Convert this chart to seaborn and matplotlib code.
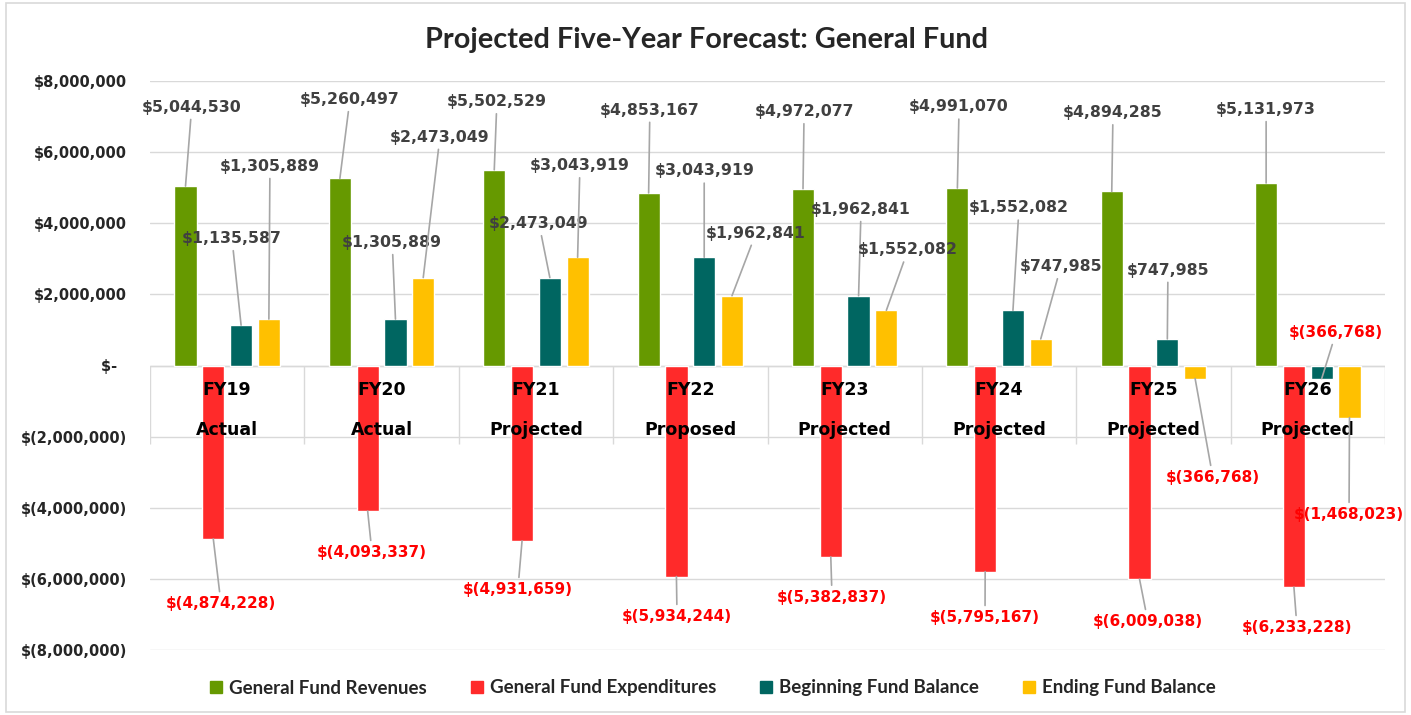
import numpy as np
import pandas as pd
import seaborn as sns
import matplotlib
matplotlib.use("Agg")
import matplotlib.pyplot as plt
from matplotlib.ticker import FuncFormatter
from matplotlib.lines import Line2D
from matplotlib.patches import Rectangle

# ---------------- data ----------------
categories = ["FY19", "FY20", "FY21", "FY22", "FY23", "FY24", "FY25", "FY26"]
statuses = ["Actual", "Actual", "Projected", "Proposed", "Projected", "Projected", "Projected", "Projected"]
series = ["General Fund Revenues", "General Fund Expenditures",
          "Beginning Fund Balance", "Ending Fund Balance"]

revenues = [5044530, 5260497, 5502529, 4853167, 4972077, 4991070, 4894285, 5131973]
expenditures = [-4874228, -4093337, -4931659, -5934244, -5382837, -5795167, -6009038, -6233228]
beginning = [1135587, 1305889, 2473049, 3043919, 1962841, 1552082, 747985, -366768]
ending = [1305889, 2473049, 3043919, 1962841, 1552082, 747985, -366768, -1468023]

# label placement (category offset, value in millions) per series
label_dx = [
    [-0.230, -0.205, -0.253, -0.262, -0.263, -0.259, -0.262, -0.270],
    [-0.040, -0.062, -0.117, -0.086, -0.082, -0.091, -0.036, -0.070],
    [0.031, 0.069, 0.020, 0.090, 0.106, 0.129, 0.094, 0.183],
    [0.277, 0.378, 0.285, 0.425, 0.410, 0.400, 0.385, 0.267],
]
label_y = [
    [7.26, 7.48, 7.42, 7.18, 7.14, 7.27, 7.11, 7.20],
    [-6.70, -5.26, -6.30, -7.06, -6.52, -7.09, -7.20, -7.37],
    [3.57, 3.46, 3.99, 5.47, 4.39, 4.43, 2.68, 0.93],
    [5.60, 6.42, 5.62, 3.72, 3.25, 2.78, -3.15, -4.19],
]

colors = ["#669900", "#FF2A2A", "#006661", "#FFC000"]
values = [revenues, expenditures, beginning, ending]

df = pd.DataFrame({
    "Year": categories * 4,
    "Series": [s for s in series for _ in categories],
    "Value": [v for vals in values for v in vals],
})

# ---------------- figure ----------------
sns.set_theme(style="white")
plt.rcParams["font.family"] = ["DejaVu Sans"]

fig = plt.figure(figsize=(14.11, 7.15), dpi=100)
ax = fig.add_axes([150 / 1411, 1 - 650 / 715, 1235 / 1411, 569 / 715])

sns.barplot(data=df, x="Year", y="Value", hue="Series", order=categories,
            hue_order=series, palette=colors, width=0.72, gap=0.2,
            saturation=1, errorbar=None, legend=False, ax=ax, zorder=3)

ax.set_xlim(-0.5, 7.5)
ax.set_ylim(-8e6, 8e6)
ax.set_yticks(np.arange(-8e6, 8.1e6, 2e6))


def money(v, pos=None):
    if abs(v) < 1:
        return "$-  "
    if v < 0:
        return "$({:,.0f})".format(-v)
    return "${:,.0f}".format(v)


ax.yaxis.set_major_formatter(FuncFormatter(money))
ax.tick_params(axis="y", length=0, pad=16.5, labelsize=10.5)
for lab in ax.get_yticklabels():
    lab.set_fontweight("bold")
ax.set_xticks([])
ax.set_xlabel("")
ax.set_ylabel("")
for sp in ax.spines.values():
    sp.set_visible(False)
ax.grid(axis="y", color="#D9D9D9", lw=1)
ax.set_axisbelow(True)
ax.axhline(0, color="#D9D9D9", lw=1, zorder=1)
ax.vlines(np.arange(-0.5, 8, 1), -2.22e6, 0, color="#D9D9D9", lw=1, zorder=1)

# category labels
for i, (c, s) in enumerate(zip(categories, statuses)):
    ax.text(i, -0.675e6, c, ha="center", va="center", fontsize=12.5,
            fontweight="bold", color="black", zorder=6)
    ax.text(i, -1.80e6, s, ha="center", va="center", fontsize=12.5,
            fontweight="bold", color="black", zorder=6)

# data labels with leader lines
for s_idx, container in enumerate(ax.containers):
    for bar in container:
        x = bar.get_x() + bar.get_width() / 2
        i = int(round(x))
        tip = bar.get_y() + bar.get_height()
        v = values[s_idx][i]
        neg = v < 0
        ax.annotate(money(v),
                    xy=(x, tip),
                    xytext=(i + label_dx[s_idx][i], label_y[s_idx][i] * 1e6),
                    textcoords="data", ha="center", va="center",
                    fontsize=11.3 if not neg else 11,
                    fontweight="bold",
                    color="#FF0000" if neg else "#404040",
                    arrowprops=dict(arrowstyle="-", color="#A6A6A6", lw=1.2,
                                    shrinkA=1, shrinkB=0),
                    zorder=7)

# title
fig.text(0.501, 1 - 40 / 715, "Projected Five-Year Forecast: General Fund",
         ha="center", va="center", fontsize=20.8, fontweight="bold",
         family=["Lato", "DejaVu Sans"])

# legend
handles = [Line2D([], [], marker="s", ls="", color=c, markersize=8.5) for c in colors]
fig.legend(handles, series, loc="center", bbox_to_anchor=(0.505, 1 - 688 / 715),
           ncol=4, frameon=False, handlelength=0.7, handletextpad=0.35,
           columnspacing=2.3, prop=dict(family=["Lato", "DejaVu Sans"],
                                        weight="bold", size=13.5))

# outer border
fig.patches.append(Rectangle((0.004, 0.004), 0.992, 0.992, transform=fig.transFigure,
                             fill=False, edgecolor="#D9D9D9", lw=1.2))

fig.savefig("out.png", dpi=100)
